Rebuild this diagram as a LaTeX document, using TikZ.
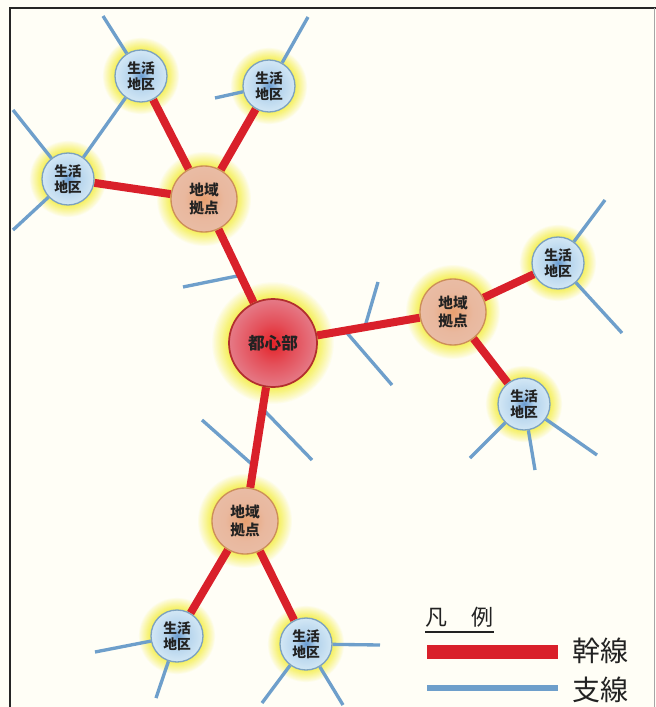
\documentclass[tikz,border=0pt]{standalone}
\usepackage{fontspec}
\newfontfamily\cjk{Noto Sans CJK JP}
\usetikzlibrary{calc}
\definecolor{bgc}{HTML}{FFFEF6}
\definecolor{glowy}{HTML}{F4EE48}
\definecolor{trunkc}{HTML}{D9202A}
\definecolor{branchc}{HTML}{6E9FCB}
\definecolor{txt}{HTML}{222222}
\definecolor{cin}{HTML}{E42228}
\definecolor{cmid}{HTML}{E4505A}
\definecolor{cmid2}{HTML}{E68A98}
\definecolor{cout}{HTML}{E8AAB8}
\definecolor{cbord}{HTML}{B22E2E}
\definecolor{hin}{HTML}{E8A070}
\definecolor{hmid}{HTML}{E9B89E}
\definecolor{hout}{HTML}{EBC6B6}
\definecolor{hbord}{HTML}{CC8E5A}
\definecolor{lin}{HTML}{6A9CD0}
\definecolor{lmid}{HTML}{B4D3EC}
\definecolor{lout}{HTML}{DDEEF8}
\definecolor{lbord}{HTML}{7DA2C0}
\pgfdeclareradialshading{centershade}{\pgfpoint{0bp}{0bp}}{color(0bp)=(cin); color(12bp)=(cmid); color(30bp)=(cmid2); color(50bp)=(cout)}
\pgfdeclareradialshading{hubshade}{\pgfpoint{0bp}{0bp}}{color(0bp)=(hin); color(15bp)=(hmid); color(50bp)=(hout)}
\pgfdeclareradialshading{lifeshade}{\pgfpoint{0bp}{0bp}}{color(0bp)=(lin); color(10bp)=(lmid); color(30bp)=(lout); color(50bp)=(lout)}
\pgfdeclarelayer{backlayer}
\pgfdeclarelayer{glowlayer}
\pgfdeclarelayer{linelayer}
\pgfsetlayers{backlayer,glowlayer,linelayer,main}
\newcommand\glowat[3]{%
  \foreach \k in {0,...,15} {%
    \pgfmathsetmacro\rr{(#2+#3*(1-\k/15))*0.75}%
    \pgfmathtruncatemacro\pc{100*(\k/15)^0.9}%
    \fill[glowy!\pc!bgc] (#1.center) circle (\rr pt);%
  }}
\tikzset{
  centernode/.style={circle, shade, shading=centershade, draw=cbord, line width=1.3pt, minimum size=66pt, inner sep=0pt, text=txt, font=\cjk\bfseries\fontsize{12.5}{14}\selectfont},
  hubnode/.style={circle, shade, shading=hubshade, draw=hbord, line width=1pt, minimum size=49.5pt, inner sep=0pt, align=center, text=txt, font=\cjk\bfseries\fontsize{11}{13.5}\selectfont},
  lifenode/.style={circle, shade, shading=lifeshade, draw=lbord, line width=1pt, minimum size=39pt, inner sep=0pt, align=center, text=txt, font=\cjk\bfseries\fontsize{10.3}{12}\selectfont},
  trunk/.style={draw=trunkc, line width=6pt},
  branch/.style={draw=branchc, line width=2.5pt}
}
\begin{document}
\begin{tikzpicture}[x=0.75pt, y=-0.75pt]
\useasboundingbox (0,0) rectangle (656,707);
\begin{pgfonlayer}{backlayer}
\fill[bgc] (0,0) rectangle (656,707);
\end{pgfonlayer}
% nodes
\node[centernode] (C) at (273,343) {都心部};
\node[hubnode] (H1) at (204,199) {地域\\拠点};
\node[hubnode] (H2) at (453,312) {地域\\拠点};
\node[hubnode] (H3) at (245,521) {地域\\拠点};
\node[lifenode] (L1) at (141,76) {生活\\地区};
\node[lifenode] (L2) at (269,86) {生活\\地区};
\node[lifenode] (L3) at (68,179) {生活\\地区};
\node[lifenode] (L4) at (558,263) {生活\\地区};
\node[lifenode] (L5) at (524,404) {生活\\地区};
\node[lifenode] (L6) at (177,636) {生活\\地区};
\node[lifenode] (L7) at (306,644) {生活\\地区};
% glows
\begin{pgfonlayer}{glowlayer}
\glowat{C}{43}{19}
\foreach \n in {H1,H2,H3} {\glowat{\n}{32}{16}}
\foreach \n in {L1,L2,L3,L4,L5,L6,L7} {\glowat{\n}{25}{14}}
\end{pgfonlayer}
% free ends of branch lines
\coordinate (E1a) at (103,16);
\coordinate (E2a) at (308,17);
\coordinate (E2b) at (215,98);
\coordinate (E3a) at (13,110);
\coordinate (E3b) at (13,230);
\coordinate (E4a) at (605,200);
\coordinate (E4b) at (622,333);
\coordinate (E5a) at (470,458);
\coordinate (E5b) at (535,470);
\coordinate (E5c) at (597,455);
\coordinate (E6a) at (95,652);
\coordinate (E6b) at (156,698);
\coordinate (E7a) at (380,645);
\coordinate (E7b) at (262,703);
\coordinate (E7c) at (343,705);
\coordinate (T1) at (183,287);
\coordinate (T2) at (378,282);
\coordinate (T3) at (392,385);
\coordinate (T4) at (202,420);
\coordinate (T5) at (312,460);
\coordinate (P1) at ($(C)!0.47!(H1)$);
\coordinate (P2) at ($(C)!0.51!(H2)$);
\coordinate (P3) at ($(C)!0.40!(H2)$);
\coordinate (P4) at ($(C)!0.69!(H3)$);
\coordinate (P5) at ($(C)!0.37!(H3)$);
\begin{pgfonlayer}{linelayer}
% branch lines
\draw[branch] (L1) -- (E1a);
\draw[branch] (L1) -- (L3);
\draw[branch] (L2) -- (E2a);
\draw[branch] (L2) -- (E2b);
\draw[branch] (L3) -- (E3a);
\draw[branch] (L3) -- (E3b);
\draw[branch] (L4) -- (E4a);
\draw[branch] (L4) -- (E4b);
\draw[branch] (L5) -- (E5a);
\draw[branch] (L5) -- (E5b);
\draw[branch] (L5) -- (E5c);
\draw[branch] (L6) -- (E6a);
\draw[branch] (L6) -- (E6b);
\draw[branch] (L7) -- (E7a);
\draw[branch] (L7) -- (E7b);
\draw[branch] (L7) -- (E7c);
\draw[branch] (T1) -- (P1);
\draw[branch] (T2) -- (P2);
\draw[branch] (P3) -- (T3);
\draw[branch] (T4) -- (P4);
\draw[branch] (P5) -- (T5);
% trunk lines
\draw[trunk] (C) -- (H1);
\draw[trunk] (C) -- (H2);
\draw[trunk] (C) -- (H3);
\draw[trunk] (H1) -- (L1);
\draw[trunk] (H1) -- (L2);
\draw[trunk] (H1) -- (L3);
\draw[trunk] (H2) -- (L4);
\draw[trunk] (H2) -- (L5);
\draw[trunk] (H3) -- (L6);
\draw[trunk] (H3) -- (L7);
\end{pgfonlayer}
% frame
\draw[line width=1.6pt, black!85] (10,712) -- (10,8) -- (660,8);
\draw[line width=0.6pt, black!35] (654,8) -- (654,712);
% legend
\node[anchor=base west, inner sep=0pt, text=txt, font=\cjk\fontsize{16.5}{16.5}\selectfont] (lgT) at (425,625) {凡\kern 18pt 例};
\draw[line width=1.2pt, txt] ($(lgT.base west)+(0,7)$) -- ($(lgT.base east)+(0,7)$);
\node[draw=none, fill=trunkc, minimum width=98.25pt, minimum height=10.5pt, inner sep=0pt, anchor=west] (lgR) at (427,652) {};
\node[draw=none, fill=branchc, minimum width=98.25pt, minimum height=4.5pt, inner sep=0pt, anchor=west] (lgB) at (427,688) {};
\node[anchor=west, inner sep=0pt, text=txt, font=\cjk\fontsize{21}{21}\selectfont] (lgRt) at (572,651) {幹線};
\node[anchor=west, inner sep=0pt, text=txt, font=\cjk\fontsize{21}{21}\selectfont] (lgBt) at (572,690) {支線};
\end{tikzpicture}
\end{document}
